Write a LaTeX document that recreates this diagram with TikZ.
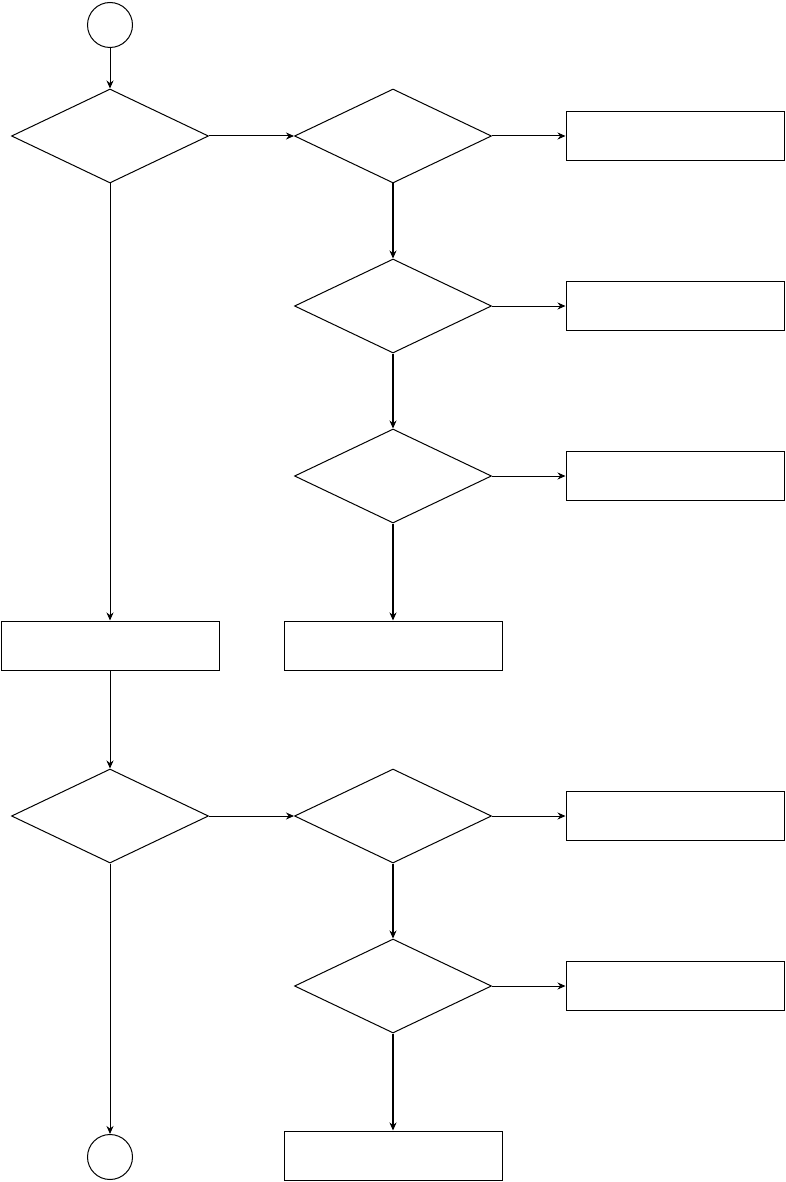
\documentclass[tikz,border=0pt]{standalone}
\usetikzlibrary{shapes.geometric,arrows.meta}

\tikzset{
  decision/.style={diamond, draw, line width=1pt, minimum width=197pt, minimum height=94pt, inner sep=0pt},
  block/.style={rectangle, draw, line width=1pt, minimum width=218pt, minimum height=49pt, inner sep=0pt},
  terminal/.style={circle, draw, line width=1pt, minimum size=45pt, inner sep=0pt},
  flow/.style={line width=1pt, -{Stealth[length=8pt,width=7pt]}},
  mainflow/.style={flow, line width=1.7pt},
}

\begin{document}
\begin{tikzpicture}[x=1pt,y=-1pt]
  \useasboundingbox (0,0) rectangle (786,1182);
  % left column
  \node[terminal] (start) at (110,25) {};
  \node[decision] (d1) at (110,136) {};
  \node[block] (left) at (110,645.5) {};
  \node[decision] (d5) at (110,816) {};
  \node[terminal] (stop) at (110,1157) {};
  % right columns
  \foreach \n/\y in {2/136,3/306,4/476,6/816,7/986}{
    \node[decision] (d\n) at (393,\y) {};
    \node[block] (r\n) at (675,\y) {};
  }
  \node[block] (mid) at (393,645.5) {};
  \node[block] (last) at (393,1155.5) {};
  % connectors
  \draw[flow] (start) -- (d1);
  \draw[flow] (d1) -- (d2);
  \draw[flow] (d1) -- (left);
  \draw[flow] (left) -- (d5);
  \draw[flow] (d5) -- (d6);
  \draw[flow] (d5) -- (stop);
  \foreach \n in {2,3,4,6,7}
    \draw[flow] (d\n) -- (r\n);
  \draw[mainflow] (d2) -- (d3);
  \draw[mainflow] (d3) -- (d4);
  \draw[mainflow] (d4) -- (mid);
  \draw[mainflow] (d6) -- (d7);
  \draw[mainflow] (d7) -- (last);
\end{tikzpicture}
\end{document}
